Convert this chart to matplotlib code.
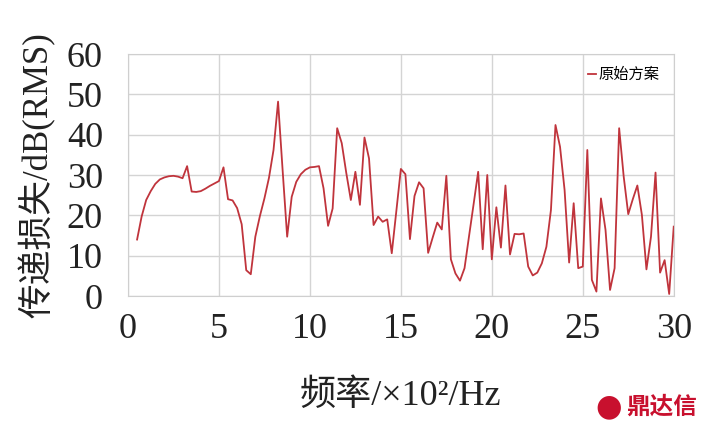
import numpy as np
import matplotlib
matplotlib.use("Agg")
import matplotlib.pyplot as plt

plt.rcParams['font.family'] = ['Liberation Serif', 'Noto Sans CJK SC', 'DejaVu Sans']

# frequency (x100 Hz), one point every 0.25
freq = np.arange(0.5, 30.01, 0.25)
# transmission loss dB(RMS)
loss = [14.0, 19.7, 23.8, 26.0, 27.8, 28.9, 29.4, 29.7, 29.8, 29.6,
        29.2, 32.2, 25.9, 25.8, 26.0, 26.6, 27.3, 27.9, 28.5, 31.9,
        24.0, 23.7, 21.8, 17.8, 6.4, 5.4, 14.7, 19.8, 24.2, 29.3,
        36.2, 48.2, 31.2, 14.7, 24.6, 28.3, 30.2, 31.3, 31.9, 32.0,
        32.2, 26.7, 17.4, 21.7, 41.6, 37.9, 30.5, 23.8, 30.8, 22.6,
        39.3, 34.1, 17.6, 19.7, 18.4, 19.0, 10.6, 21.0, 31.5, 30.2,
        14.1, 24.8, 28.2, 26.7, 10.7, 14.5, 18.2, 16.5, 29.8, 9.1,
        5.6, 3.8, 6.9, 14.9, 22.8, 30.8, 11.6, 30.0, 9.1, 22.0,
        12.0, 27.4, 10.3, 15.4, 15.3, 15.5, 7.3, 5.1, 5.8, 8.1,
        12.2, 21.3, 42.4, 37.0, 26.3, 8.3, 23.0, 6.9, 7.3, 36.2,
        4.0, 1.1, 24.2, 16.4, 1.5, 6.9, 41.6, 29.6, 20.3, 24.0,
        27.4, 20.1, 6.6, 14.7, 30.6, 5.8, 8.9, 0.5, 17.2]

xticks = [0, 5, 10, 15, 20, 25, 30]
yticks = [0, 10, 20, 30, 40, 50, 60]

fig = plt.figure(figsize=(7.04, 4.30), dpi=100)
ax = fig.add_axes([0.1818, 0.3116, 0.7752, 0.5628])

ax.plot(freq, loss, color='#c0343c', lw=1.3, label='原始方案')

ax.set_xlim(0, 30)
ax.set_ylim(0, 60)
ax.set_xticks(xticks)
ax.set_yticks(yticks)
ax.grid(True, color='#d4d4d4', lw=1.0)
ax.set_axisbelow(True)
for s in ax.spines.values():
    s.set_color('#cfcfcf')
ax.tick_params(length=0, labelsize=26, colors='#222222')
ax.tick_params(axis='y', pad=18)
ax.tick_params(axis='x', pad=12)

ax.set_ylabel('传递损失/dB(RMS)', fontsize=25, color='#222222', labelpad=8)
ax.set_xlabel('频率/×10²/Hz', fontsize=26, color='#222222', labelpad=24)

leg = ax.legend(loc='upper right', frameon=False, fontsize=11,
                handlelength=0.5, handletextpad=0.2, borderaxespad=0.5)

# watermark
fig.text(0.99, 0.055, '鼎达信', color='#c8102e', fontsize=17, fontweight='bold',
         ha='right', va='center', family=['Noto Sans CJK SC'])
fig.text(0.865, 0.055, '\u25cf', color='#c8102e', fontsize=22,
         ha='center', va='center', family=['DejaVu Sans'])

fig.savefig('out.png', dpi=100)
